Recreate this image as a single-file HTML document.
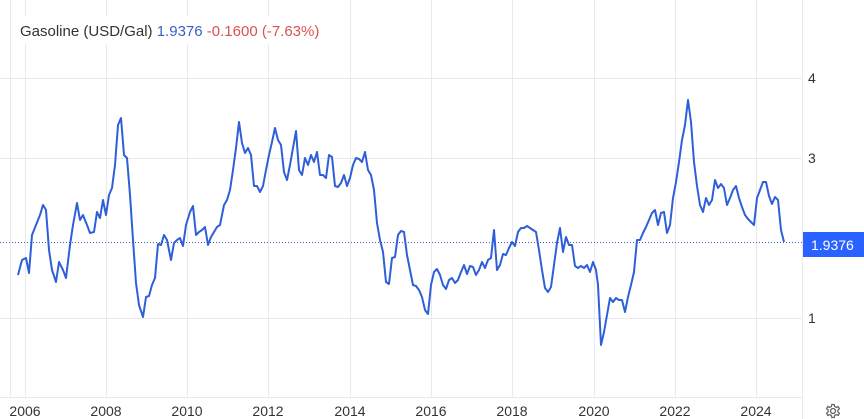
<!DOCTYPE html>
<html><head><meta charset="utf-8"><style>
html,body{margin:0;padding:0;background:#fff;width:864px;height:419px;overflow:hidden}
svg{display:block;font-family:"Liberation Sans",Arial,sans-serif}
</style></head><body>
<svg width="864" height="419" viewBox="0 0 864 419" xmlns="http://www.w3.org/2000/svg">
<g stroke="#e9e9ee" stroke-width="1">
<line x1="10.5" y1="0" x2="10.5" y2="397"/>
<line x1="25.5" y1="0" x2="25.5" y2="397"/>
<line x1="106.5" y1="0" x2="106.5" y2="397"/>
<line x1="187.5" y1="0" x2="187.5" y2="397"/>
<line x1="268.5" y1="0" x2="268.5" y2="397"/>
<line x1="350.5" y1="0" x2="350.5" y2="397"/>
<line x1="431.5" y1="0" x2="431.5" y2="397"/>
<line x1="512.5" y1="0" x2="512.5" y2="397"/>
<line x1="594.5" y1="0" x2="594.5" y2="397"/>
<line x1="675.5" y1="0" x2="675.5" y2="397"/>
<line x1="756.5" y1="0" x2="756.5" y2="397"/>
<line x1="0" y1="78.5" x2="802" y2="78.5"/>
<line x1="0" y1="158.5" x2="802" y2="158.5"/>
<line x1="0" y1="318.5" x2="802" y2="318.5"/>
<line x1="0" y1="397.5" x2="802" y2="397.5"/>
<line x1="802.5" y1="0" x2="802.5" y2="419"/>
</g>
<rect x="16" y="16" width="318" height="28" fill="#fff"/>
<text x="20" y="36" font-size="15" fill="#333">Gasoline (USD/Gal) <tspan fill="#3b5fc7">1.9376</tspan> <tspan fill="#d9534f">-0.1600 (-7.63%)</tspan></text>
<line x1="0" y1="242.5" x2="802" y2="242.5" stroke="#3b5fc7" stroke-width="1" stroke-dasharray="1,2"/>
<polyline fill="none" stroke="#2f5fd8" stroke-width="2" stroke-linejoin="round" points="18,275 22,260 26,258 29,273 32,235 36,225 40,215 43,205 46,210 49,250 52,270 56,282 59,262 63,270 66,278 70,245 73,225 77,203 80,220 83,215 87,225 90,233 94,232 97,212 100,218 103,200 106,215 109,195 112,188 115,165 118,125 121,118 124,155 127,158 130,195 133,240 136,283 139,305 143,317 146,297 149,296 152,285 155,278 158,244 161,245 164,235 167,240 171,260 174,243 177,240 180,238 183,246 186,225 190,212 193,206 196,235 199,232 202,230 205,227 208,245 211,237 214,232 217,227 220,225 224,205 227,200 230,190 233,170 236,148 239,122 242,143 245,153 248,148 251,155 254,186 257,186 260,192 263,186 266,170 269,155 272,142 275,128 278,140 281,145 284,172 287,180 290,165 293,148 296,131 299,170 302,175 305,158 308,165 311,155 314,162 317,152 320,175 323,175 326,178 329,155 332,157 335,186 338,187 341,183 344,175 347,186 350,178 353,165 356,158 359,159 362,162 365,152 368,170 371,175 374,190 377,223 380,240 383,252 386,282 389,284 392,258 395,257 398,235 401,231 404,232 407,255 410,270 413,285 416,286 419,290 422,297 425,310 428,314 431,285 434,272 437,269 440,275 443,285 446,289 449,280 452,278 455,283 458,280 461,272 464,265 467,274 470,266 473,267 476,275 479,270 482,262 485,268 488,260 491,258 494,230 497,270 500,265 503,254 506,255 509,248 512,242 515,246 518,232 521,228 524,228 527,226 530,228 533,230 536,232 539,250 542,270 545,288 548,292 551,287 554,265 557,243 560,228 563,252 566,237 569,245 572,245 575,266 578,268 581,266 584,268 587,265 590,272 593,262 596,270 598,285 601,345 604,332 607,315 610,298 613,302 616,298 619,300 622,300 625,312 628,297 631,285 634,272 637,240 640,240 643,233 646,227 649,220 652,213 655,210 658,225 661,213 664,212 667,233 670,225 673,198 676,182 679,162 682,140 685,125 688,100 691,122 694,162 697,186 700,205 703,212 706,198 709,205 712,200 715,180 718,188 721,184 724,188 727,205 730,198 733,190 736,186 739,198 742,207 745,215 748,219 751,222 754,225 757,198 760,190 763,182 766,182 769,196 772,204 775,197 778,200 781,230 784,242"/>
<g font-size="14" fill="#333">
<text x="808" y="83">4</text>
<text x="808" y="163">3</text>
<text x="808" y="323">1</text>
</g>
<rect x="803" y="232" width="61" height="25" fill="#2962ff"/>
<text x="811" y="250" font-size="14" fill="#fff">1.9376</text>
<g font-size="14" fill="#333" text-anchor="middle">
<text x="25" y="416">2006</text>
<text x="106" y="416">2008</text>
<text x="187" y="416">2010</text>
<text x="268" y="416">2012</text>
<text x="350" y="416">2014</text>
<text x="431" y="416">2016</text>
<text x="512" y="416">2018</text>
<text x="594" y="416">2020</text>
<text x="675" y="416">2022</text>
<text x="756" y="416">2024</text>
</g>
<g transform="translate(833,411)" fill="none" stroke="#666" stroke-width="1.3">
<circle r="2.5"/>
<path d="M-1.2,-6.5 L1.2,-6.5 L1.6,-4.6 L3.4,-3.6 L5.2,-4.4 L6.4,-2.3 L4.9,-1 L4.9,1 L6.4,2.3 L5.2,4.4 L3.4,3.6 L1.6,4.6 L1.2,6.5 L-1.2,6.5 L-1.6,4.6 L-3.4,3.6 L-5.2,4.4 L-6.4,2.3 L-4.9,1 L-4.9,-1 L-6.4,-2.3 L-5.2,-4.4 L-3.4,-3.6 L-1.6,-4.6 Z"/>
</g>
</svg>
</body></html>
